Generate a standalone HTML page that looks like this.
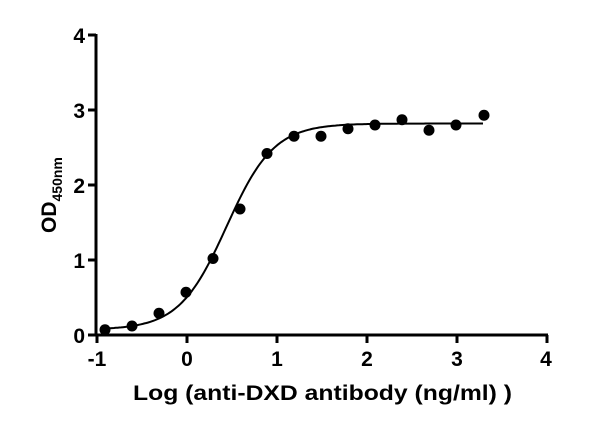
<!DOCTYPE html>
<html><head><style>body{margin:0;background:#fff}svg{display:block}</style></head><body>
<svg width="613" height="435" xmlns="http://www.w3.org/2000/svg" font-family="Liberation Sans, Arial, sans-serif" font-weight="bold">
<g stroke="#000" stroke-width="3" fill="none">
<line x1="96" y1="34" x2="96" y2="336"/>
<line x1="95" y1="335" x2="548" y2="335"/>
<line x1="88" y1="35" x2="96" y2="35"/><line x1="88" y1="110" x2="96" y2="110"/><line x1="88" y1="185" x2="96" y2="185"/><line x1="88" y1="260" x2="96" y2="260"/><line x1="88" y1="335" x2="96" y2="335"/>
<line x1="97" y1="335" x2="97" y2="343"/><line x1="187" y1="335" x2="187" y2="343"/><line x1="277" y1="335" x2="277" y2="343"/><line x1="367" y1="335" x2="367" y2="343"/><line x1="457" y1="335" x2="457" y2="343"/><line x1="547" y1="335" x2="547" y2="343"/>
</g>
<g font-size="21" text-anchor="end">
<text x="85" y="43">4</text><text x="85" y="118">3</text><text x="85" y="193">2</text><text x="85" y="268">1</text><text x="85" y="343">0</text>
</g>
<g font-size="21" text-anchor="middle">
<text x="97" y="366">-1</text><text x="187" y="366">0</text><text x="277" y="366">1</text><text x="367" y="366">2</text><text x="457" y="366">3</text><text x="546" y="366">4</text>
</g>
<text x="133" y="400" font-size="21" textLength="379" lengthAdjust="spacingAndGlyphs">Log (anti-DXD antibody (ng/ml) )</text>
<text transform="translate(56,233) rotate(-90)" font-size="21">OD<tspan font-size="14" dy="6">450nm</tspan></text>
<path id="c" fill="none" stroke="#000" stroke-width="2"/>
<g fill="#000">
<circle cx="105" cy="329.75" r="5.5"/><circle cx="132" cy="326" r="5.5"/><circle cx="159" cy="313.25" r="5.5"/><circle cx="186" cy="292.25" r="5.5"/><circle cx="213" cy="258.5" r="5.5"/><circle cx="240" cy="209" r="5.5"/><circle cx="267" cy="153.5" r="5.5"/><circle cx="294" cy="136.25" r="5.5"/><circle cx="321" cy="136.25" r="5.5"/><circle cx="348" cy="128.75" r="5.5"/><circle cx="375" cy="125" r="5.5"/><circle cx="402" cy="119.75" r="5.5"/><circle cx="429" cy="130.25" r="5.5"/><circle cx="456" cy="125" r="5.5"/><circle cx="484" cy="115.25" r="5.5"/>
</g>
<script>
var X=v=>96+(v+1)*90,Y=v=>335-v*75;
var f=x=>0.07+(2.82-0.07)/(1+Math.pow(10,(0.45-x)*1.65));
var d="";for(var x=-0.9;x<=3.301;x+=0.02){d+=(d?"L":"M")+X(x).toFixed(1)+","+Y(f(x)).toFixed(1);}
document.getElementById("c").setAttribute("d",d);
</script>
</svg>
</body></html>
